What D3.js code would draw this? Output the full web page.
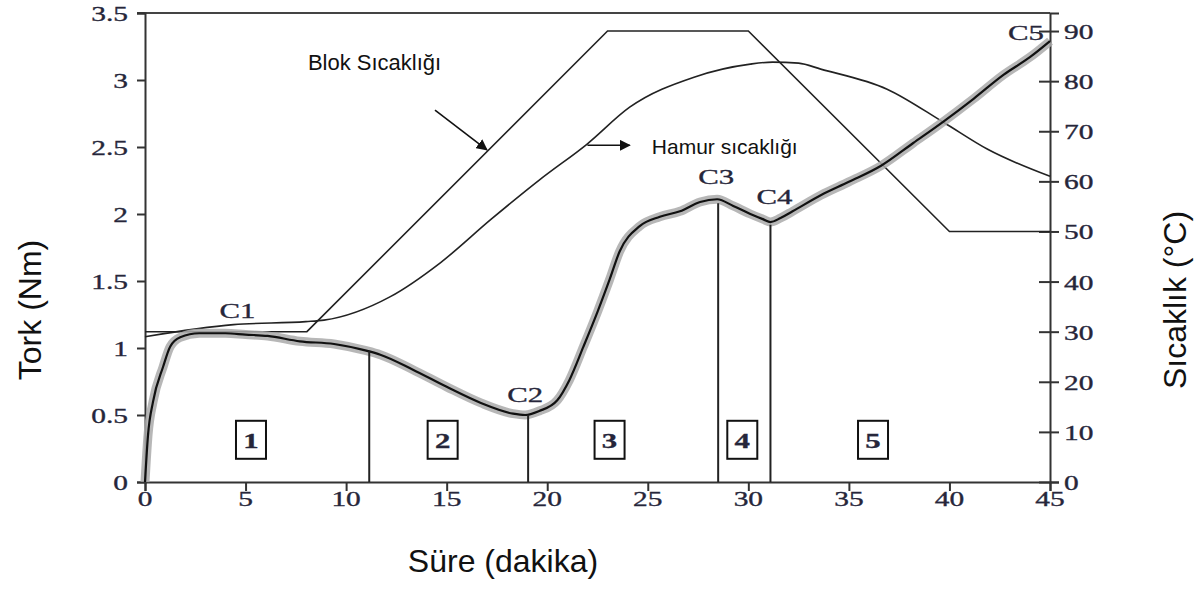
<!DOCTYPE html>
<html><head><meta charset="utf-8">
<script src="https://cdn.jsdelivr.net/npm/d3@7"></script>
<style>body{margin:0;background:#fff}svg{display:block}</style>
</head><body>
<svg id="c" width="1200" height="596"></svg>
<script>
// ---- data ----
const torqueTime = [0,0.15,0.4,0.9,1.25,1.75,2.7,4,5,6.1,7.7,9.4,11.0,11.7,13.3,15.0,16.7,18.3,18.9,19.6,20.5,21.1,21.8,22.5,23.1,23.6,24.6,25.6,26.6,27.6,28.45,29.25,30.1,30.75,31.1,31.6,32.2,33.6,35.0,36.6,38.2,39.7,41.2,42.7,44.0,45];
const torqueValue = [0,0.35,0.6,0.86,1.01,1.08,1.11,1.11,1.1,1.09,1.05,1.03,0.98,0.95,0.84,0.71,0.59,0.51,0.50,0.53,0.61,0.76,1.01,1.27,1.51,1.72,1.91,1.98,2.02,2.09,2.11,2.06,2.0,1.96,1.94,1.97,2.02,2.14,2.24,2.36,2.53,2.69,2.86,3.04,3.17,3.29];
const blockTime = [0,8.05,23,30,40,45];
const blockTemp = [30,30,90,90,50,50];
const doughTime = [0,4.4,8,8.9,12.2,14.7,17.2,19.65,22,24.1,27.3,30.1,31.2,32.5,33.6,36.9,39.7,41.9,45];
const doughTemp = [29,31.4,32,32.3,37,43.8,52.4,60.4,67.5,74.8,80.8,83.4,83.8,83.6,82.4,78.4,71.8,66.4,61];
const splitTime = [11.15,19.05,28.5,31.1];
const splitTop = [0.98,0.5,2.08,1.92];
const pointLabels = ["C1","C2","C3","C4","C5"];
const pointTime = [4.6,18.9,28.4,31.3,43.8];
const pointTorque = [1.28,0.65,2.28,2.13,3.35];
const stageLabels = ["1","2","3","4","5"];
const stageTime = [5.27,14.8,23.1,29.7,36.2];
const stageTorque = 0.315;
const xTicks = [0,5,10,15,20,25,30,35,40,45];
const yLeftTicks = [0,0.5,1,1.5,2,2.5,3,3.5];
const yRightTicks = [0,10,20,30,40,50,60,70,80,90];

// ---- scales ----
const svg = d3.select("#c");
const x = d3.scaleLinear().domain([0,45]).range([145,1050]);
const yL = d3.scaleLinear().domain([0,3.5]).range([482,13]);
const yR = d3.scaleLinear().domain([0,93.6]).range([482,13]);
const ink = "#222";
const lblCol = "#26263a";
const serif = "'Liberation Serif','Times New Roman',serif";
const sans = "'Liberation Sans',Arial,sans-serif";
const stretch = 1.4;

// frame
svg.append("line").attr("x1",x(0)-8).attr("x2",x(45)).attr("y1",yL(3.5)).attr("y2",yL(3.5)).attr("stroke","#444").attr("stroke-width",2);

// axes
const gx = svg.append("g").attr("transform",`translate(0,${yL(0)})`)
  .call(d3.axisBottom(x).tickValues(xTicks).tickSize(9).tickFormat(""));
const gl = svg.append("g").attr("transform",`translate(${x(0)},0)`)
  .call(d3.axisLeft(yL).tickValues(yLeftTicks).tickSize(8).tickFormat(""));
const gr = svg.append("g").attr("transform",`translate(${x(45)},0)`)
  .call(d3.axisRight(yR).tickValues(yRightTicks).tickSize(9).tickFormat(""));
[gx,gl,gr].forEach(g=>{
  g.select(".domain").attr("stroke","#333").attr("stroke-width",2);
  g.selectAll(".tick line").attr("stroke","#333").attr("stroke-width",2);
});
gr.selectAll(".tick line").attr("x1",-11);

// tick labels (stretched serif)
function stretchedText(px,py,txt,size,anchor,weight){
  return svg.append("text")
    .attr("transform",`translate(${px},${py}) scale(${stretch},1)`)
    .attr("text-anchor",anchor).attr("dominant-baseline","central")
    .attr("font-family",serif).attr("font-size",size).attr("font-weight",weight||"normal")
    .attr("fill",lblCol).attr("stroke",lblCol).attr("stroke-width",0.35).text(txt);
}
xTicks.forEach(v=>stretchedText(x(v),499,String(v),21,"middle"));
yLeftTicks.forEach(v=>stretchedText(128,yL(v)+1,String(v),21,"end"));
yRightTicks.forEach(v=>stretchedText(1064,yR(v)+1,String(v),21,"start"));

// temperature curves
const blockLine = d3.line().x((d,i)=>x(blockTime[i])).y(d=>yR(d));
svg.append("path").attr("d",blockLine(blockTemp)).attr("fill","none").attr("stroke",ink).attr("stroke-width",1.6);
const doughLine = d3.line().curve(d3.curveMonotoneX).x((d,i)=>x(doughTime[i])).y(d=>yR(d));
svg.append("path").attr("d",doughLine(doughTemp)).attr("fill","none").attr("stroke",ink).attr("stroke-width",1.6);

// torque curve: noisy grey band + black line
const torqueLine = d3.line().curve(d3.curveMonotoneX).x((d,i)=>x(torqueTime[i])).y(d=>yL(d));
svg.append("path").attr("d",torqueLine(torqueValue)).attr("fill","none").attr("stroke","#aaa").attr("stroke-width",9).attr("stroke-linejoin","round").attr("opacity",0.85);
svg.append("path").attr("d",torqueLine(torqueValue)).attr("fill","none").attr("stroke","#111").attr("stroke-width",2.2);

// stage separators
splitTime.forEach((t,i)=>{
  svg.append("line").attr("x1",x(t)).attr("x2",x(t)).attr("y1",yL(0)).attr("y2",yL(splitTop[i]))
    .attr("stroke","#222").attr("stroke-width",2);
});

// point labels
pointLabels.forEach((s,i)=>stretchedText(x(pointTime[i]),yL(pointTorque[i]),s,22,"middle"));

// stage boxes
stageLabels.forEach((s,i)=>{
  const cx = x(stageTime[i]), cy = yL(stageTorque);
  svg.append("rect").attr("x",cx-15).attr("y",cy-19).attr("width",30).attr("height",38)
    .attr("fill","#fff").attr("stroke","#111").attr("stroke-width",2);
  stretchedText(cx,cy+1,s,22,"middle","bold");
});

// annotations
const defs = svg.append("defs");
defs.append("marker").attr("id","ah").attr("viewBox","0 0 10 10").attr("refX",9).attr("refY",5)
  .attr("markerWidth",7).attr("markerHeight",7).attr("orient","auto")
  .append("path").attr("d","M0,0L10,5L0,10z").attr("fill","#111");
const arrowStart = [[14.42,74.2],[22.0,67.2]];
const arrowEnd = [[17.0,66.3],[24.1,67.2]];
arrowStart.forEach((p,i)=>{
  svg.append("line").attr("x1",x(p[0])).attr("y1",yR(p[1])).attr("x2",x(arrowEnd[i][0])).attr("y2",yR(arrowEnd[i][1]))
    .attr("stroke","#111").attr("stroke-width",1.6).attr("marker-end","url(#ah)");
});
const noteText = ["Blok Sıcaklığı","Hamur sıcaklığı"];
const notePos = [[8.1,83.8],[25.2,66.9]];
const noteSize = [22,21];
noteText.forEach((s,i)=>{
  svg.append("text").attr("x",x(notePos[i][0])).attr("y",yR(notePos[i][1]))
    .attr("dominant-baseline","central").attr("font-family",sans).attr("font-size",noteSize[i]).attr("fill","#111").text(s);
});

// axis titles
svg.append("text").attr("x",503).attr("y",561).attr("text-anchor","middle").attr("dominant-baseline","central")
  .attr("font-family",sans).attr("font-size",32).attr("fill","#111").text("Süre (dakika)");
svg.append("text").attr("transform","translate(30,310) rotate(-90)").attr("text-anchor","middle").attr("dominant-baseline","central")
  .attr("font-family",sans).attr("font-size",32).attr("fill","#111").text("Tork (Nm)");
svg.append("text").attr("transform","translate(1175,300) rotate(-90)").attr("text-anchor","middle").attr("dominant-baseline","central")
  .attr("font-family",sans).attr("font-size",32).attr("fill","#111").text("Sıcaklık (°C)");
</script>
</body></html>
